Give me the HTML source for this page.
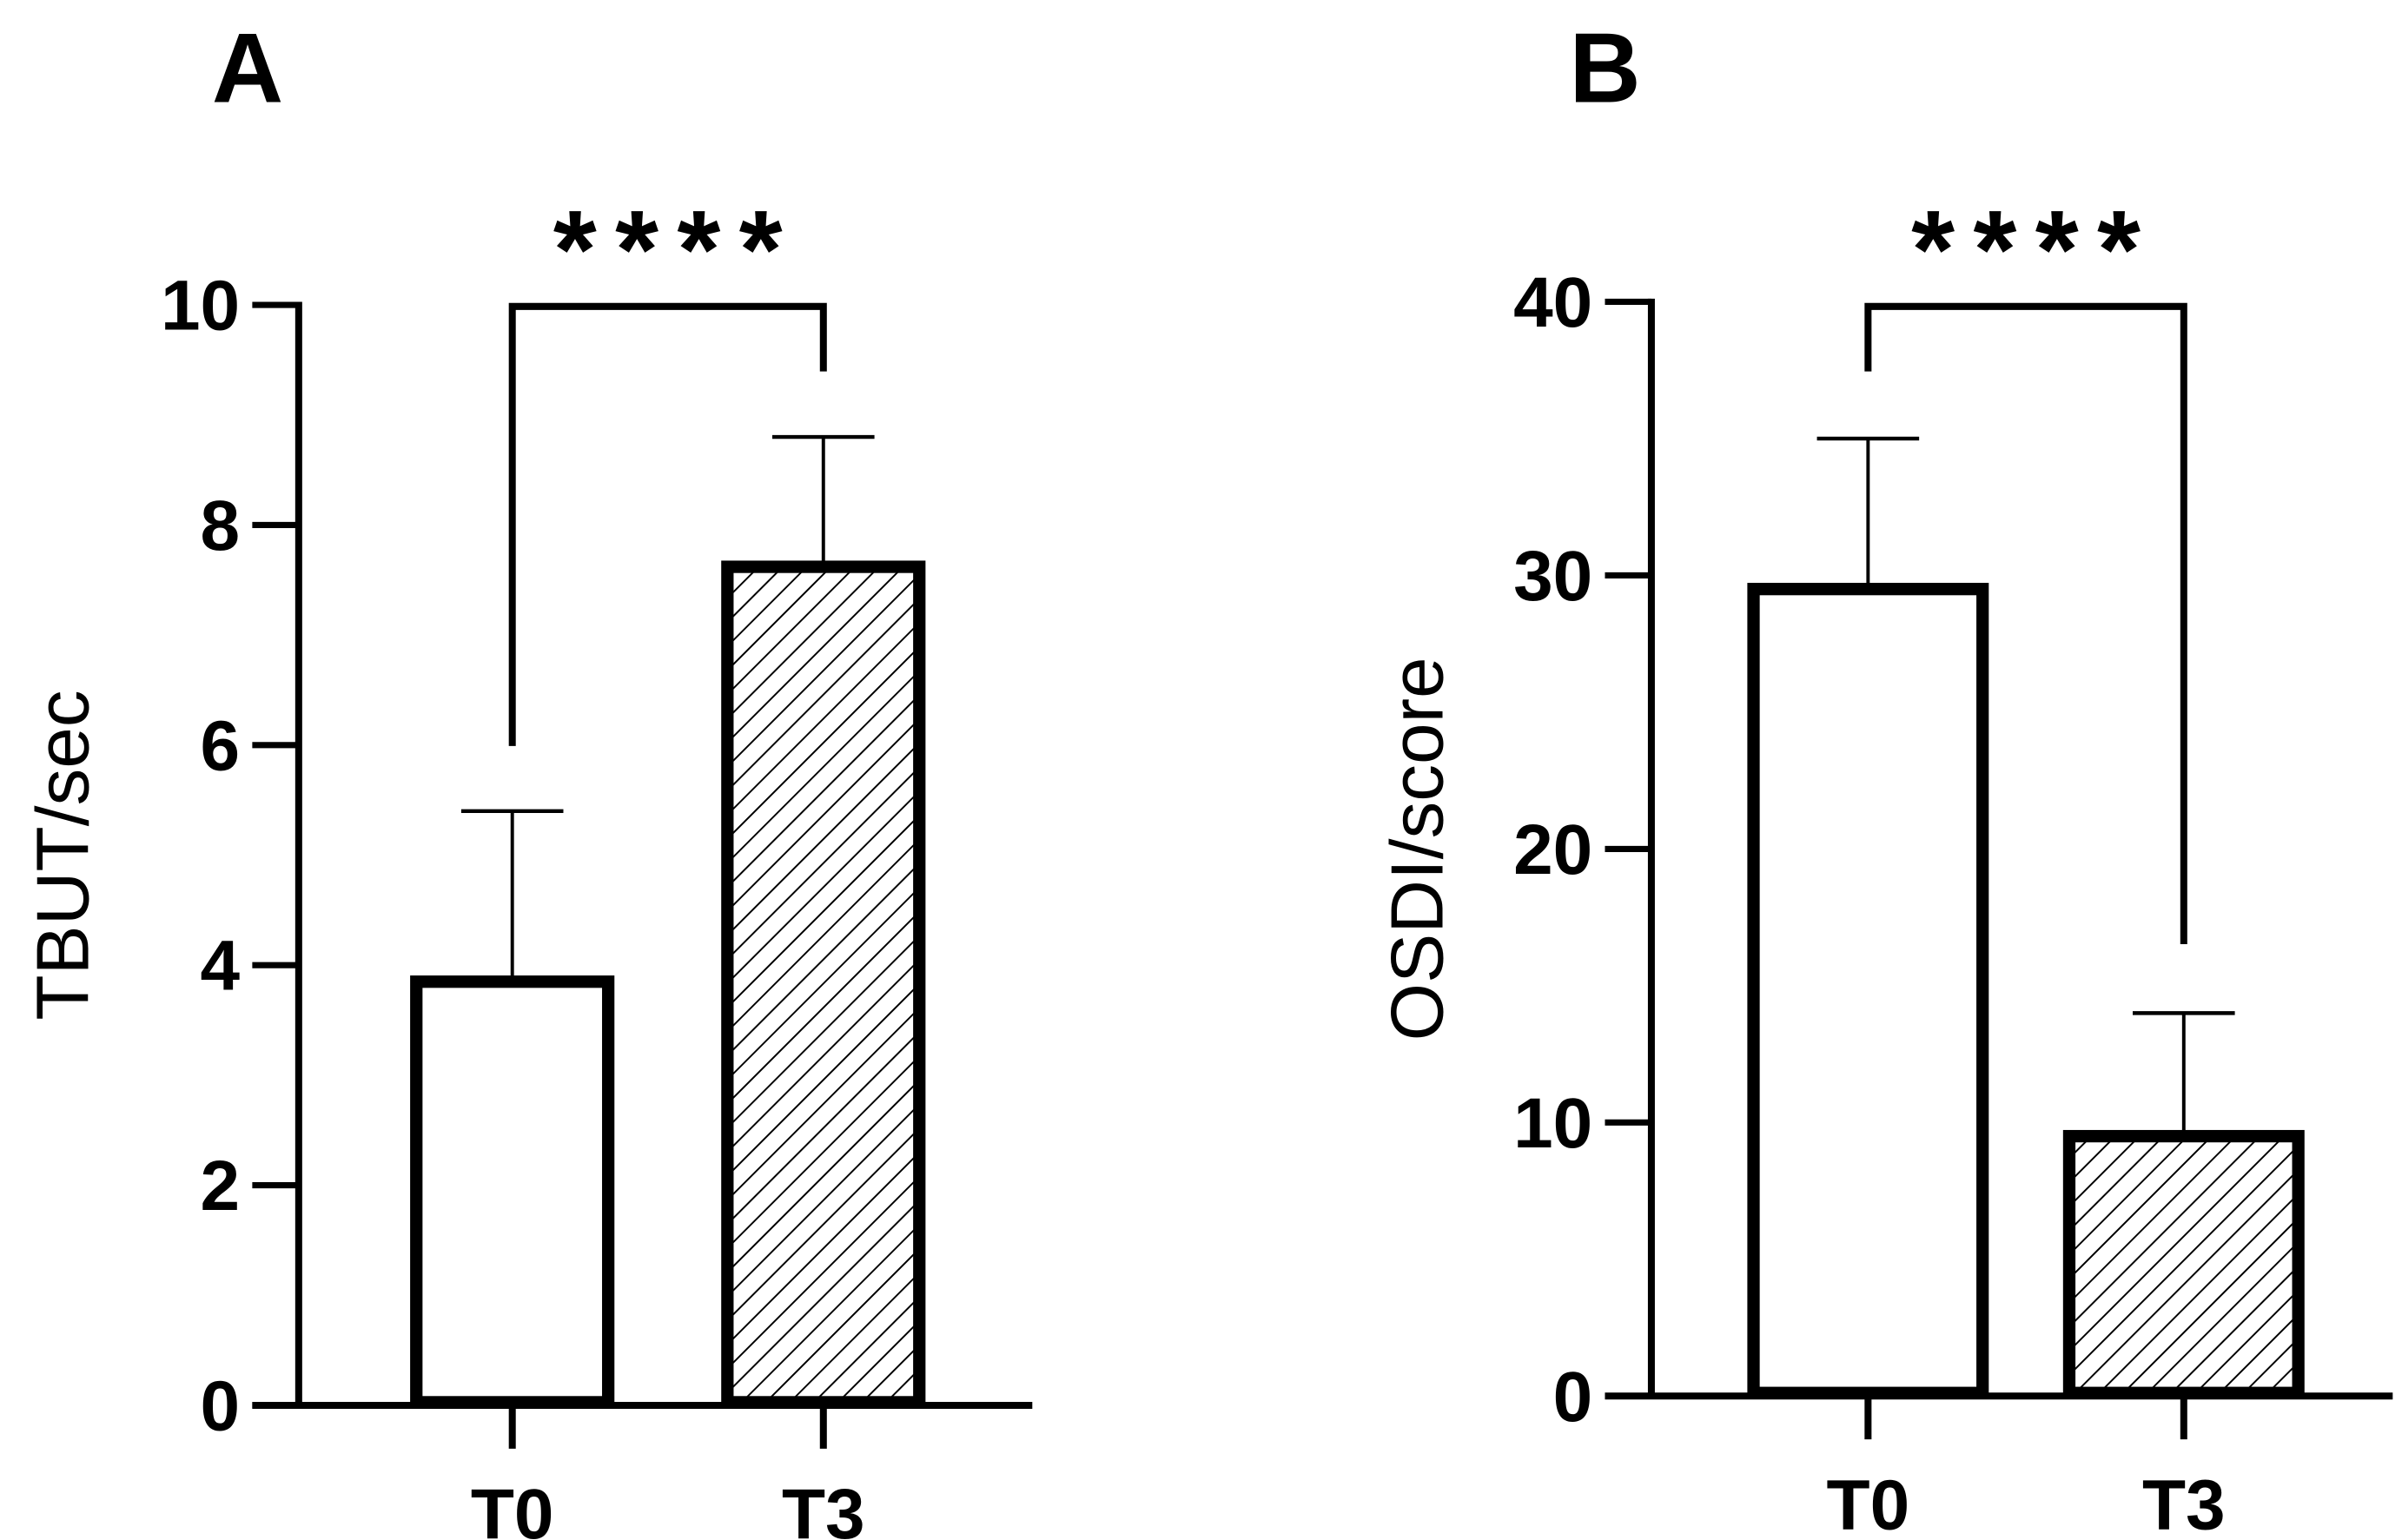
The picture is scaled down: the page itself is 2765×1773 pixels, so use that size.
<!DOCTYPE html>
<html><head><meta charset="utf-8"><style>
html,body{margin:0;padding:0;background:#fff;}
svg{display:block;}
text{font-family:"Liberation Sans",Arial,sans-serif;fill:#000;}
</style></head><body>
<svg id="fig" width="2765" height="1773" viewBox="0 0 1552 995" preserveAspectRatio="none" xmlns="http://www.w3.org/2000/svg">
<defs>
<pattern id="hatch" patternUnits="userSpaceOnUse" width="11" height="11" patternTransform="rotate(45)">
<line x1="0" y1="0" x2="0" y2="11" stroke="#000" stroke-width="2.2"/>
</pattern>
</defs>
<g id="panelA"></g>
<g id="panelB"></g>
</svg>
<script>
const categories = ["T0", "T3"];
const tbutMeans = [3.85, 7.62];
const tbutErrors = [1.55, 1.18];
const tbutTicks = [0, 2, 4, 6, 8, 10];
const osdiMeans = [29.5, 9.5];
const osdiErrors = [5.5, 4.5];
const osdiTicks = [0, 10, 20, 30, 40];
const sigLabel = "****";

const NS = "http://www.w3.org/2000/svg";
function mk(parent, tag, attrs, text) {
  const e = document.createElementNS(NS, tag);
  for (const k in attrs) e.setAttribute(k, attrs[k]);
  if (text !== undefined) e.textContent = text;
  parent.appendChild(e);
  return e;
}

function drawPanel(g, cfg) {
  const y = v => cfg.y0 - (v - cfg.ymin) / (cfg.ymax - cfg.ymin) * (cfg.y0 - cfg.ytop);
  const lbl = mk(g, "text", {x: cfg.letterX, y: 66, "font-size": 64, "font-weight": "bold", "text-anchor": "middle"}, cfg.letter);
  
  
  const ax = mk(g, "line", {x1: cfg.axX, y1: y(cfg.ymax) - 2, x2: cfg.axX, y2: cfg.y0 + 2, stroke: "#000", "stroke-width": 4.5});
  
  
  cfg.ticks.forEach(t => {
    const tl = mk(g, "line", {x1: cfg.axX - 30, y1: y(t), x2: cfg.axX, y2: y(t), stroke: "#000", "stroke-width": 4});
    
    
    const tt = mk(g, "text", {x: cfg.axX - 38, y: y(t) + 16, "font-size": 46, "font-weight": "bold", "text-anchor": "end"}, String(t));
    
    
  });
  const yt = mk(g, "text", {x: 0, y: 0, "font-size": 48, "text-anchor": "middle", transform: `translate(${cfg.titleX},${(cfg.y0 + cfg.ytop) / 2}) rotate(-90)`}, cfg.title);
  
  
  const xa = mk(g, "line", {x1: cfg.axX - 30, y1: cfg.y0, x2: cfg.xEnd, y2: cfg.y0, stroke: "#000", "stroke-width": 4.5});
  
  
  categories.forEach((c, i) => {
    const cx = cfg.cx[i];
    const top = y(cfg.means[i]);
    const hw = cfg.barW / 2;
    const eb = mk(g, "line", {x1: cx, y1: top, x2: cx, y2: y(cfg.means[i] + cfg.errs[i]), stroke: "#000", "stroke-width": 2.2});
    
    
    const cap = mk(g, "line", {x1: cx - 33, y1: y(cfg.means[i] + cfg.errs[i]), x2: cx + 33, y2: y(cfg.means[i] + cfg.errs[i]), stroke: "#000", "stroke-width": 2.5});
    
    
    const bar = mk(g, "rect", {x: cx - hw + 4, y: top, width: cfg.barW - 8, height: cfg.y0 - top - 2, fill: i === 1 ? "url(#hatch)" : "#fff", stroke: "#000", "stroke-width": 8});
    
    
    const xt = mk(g, "line", {x1: cx, y1: cfg.y0, x2: cx, y2: cfg.y0 + 28, stroke: "#000", "stroke-width": 4.5});
    
    
    const xl = mk(g, "text", {x: cx, y: cfg.y0 + 86, "font-size": 46, "font-weight": "bold", "text-anchor": "middle"}, c);
    
    
  });
  const br = mk(g, "polyline", {points: `${cfg.cx[0]},${cfg.brL} ${cfg.cx[0]},${cfg.brTop} ${cfg.cx[1]},${cfg.brTop} ${cfg.cx[1]},${cfg.brR}`, fill: "none", stroke: "#000", "stroke-width": 4.5});
  
  
  const st = mk(g, "text", {x: (cfg.cx[0] + cfg.cx[1]) / 2 + 6, y: 186, "font-size": 72, "font-weight": "bold", "text-anchor": "middle", "letter-spacing": 12}, sigLabel);
  
  
}

drawPanel(document.getElementById("panelA"), {
  letter: "A", letterX: 160, axX: 193, y0: 908, ytop: 197, ymin: 0, ymax: 10,
  ticks: tbutTicks, means: tbutMeans, errs: tbutErrors, title: "TBUT/sec", titleX: 57,
  xEnd: 667, cx: [331, 532], barW: 132, brTop: 198, brL: 482, brR: 240
});
drawPanel(document.getElementById("panelB"), {
  letter: "B", letterX: 1037, axX: 1067, y0: 902, ytop: 195, ymin: 0, ymax: 40,
  ticks: osdiTicks, means: osdiMeans, errs: osdiErrors, title: "OSDI/score", titleX: 932,
  xEnd: 1546, cx: [1207, 1411], barW: 156, brTop: 198, brL: 240, brR: 610
});
</script>
</body></html>
